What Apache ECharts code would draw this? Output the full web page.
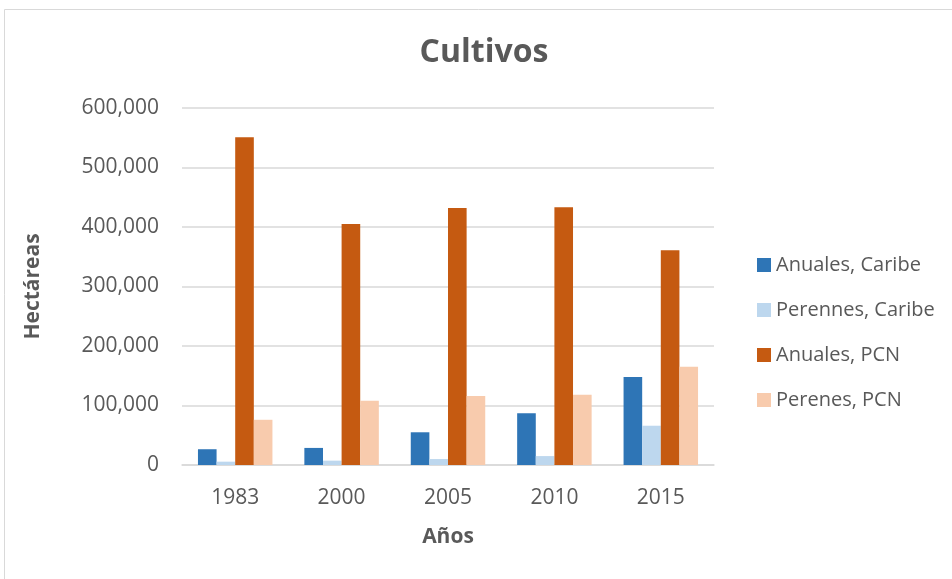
<!DOCTYPE html>
<html><head><meta charset="utf-8">
<script src="https://cdn.jsdelivr.net/npm/echarts@6/dist/echarts.min.js"></script>
<style>html,body{margin:0;padding:0;background:#fff}#c{width:952px;height:579px}</style>
</head><body><div id="c"></div>
<script>
const years = ['1983','2000','2005','2010','2015'];
const seriesNames = ['Anuales, Caribe','Perennes, Caribe','Anuales, PCN','Perenes, PCN'];
const anualesCaribe = [26500, 28700, 55000, 87000, 148000];
const perennesCaribe = [5600, 7300, 10000, 15000, 66000];
const anualesPCN = [551000, 405000, 432000, 433000, 361000];
const perenesPCN = [76000, 108000, 116000, 118000, 165000];
const colors = ['#2E75B6','#BDD7EE','#C55A11','#F8CBAD'];
const values = [anualesCaribe, perennesCaribe, anualesPCN, perenesPCN];
const font = 'Open Sans';
const chart = echarts.init(document.getElementById('c'));
chart.setOption({
  animation:false,
  graphic:[{type:'rect',shape:{x:4.5,y:9.5,width:960,height:600},style:{fill:'none',stroke:'#D9D9D9',lineWidth:1},silent:true}],
  title:{text:'Cultivos',left:479,top:32,textAlign:'center',textStyle:{fontFamily:font,fontSize:32,fontWeight:'bold',color:'#595959'}},
  legend:{orient:'vertical',left:752,top:250,itemWidth:14,itemHeight:14,itemGap:25,icon:'rect',
    textStyle:{fontFamily:font,fontSize:20,color:'#595959'},data:seriesNames},
  grid:{left:182,right:238,top:108,bottom:114},
  xAxis:{type:'category',data:years,name:'Años',nameLocation:'middle',nameGap:62,
    nameTextStyle:{fontFamily:font,fontSize:21,fontWeight:'bold',color:'#595959'},
    axisLine:{lineStyle:{color:'#D9D9D9',width:1.5}},axisTick:{show:false},
    axisLabel:{fontFamily:font,fontSize:21,color:'#595959',margin:23}},
  yAxis:{type:'value',min:0,max:600000,interval:100000,name:'Hectáreas',nameLocation:'middle',nameGap:138,
    nameTextStyle:{fontFamily:font,fontSize:21,fontWeight:'bold',color:'#595959'},
    axisLine:{show:false},axisTick:{show:false},
    splitLine:{lineStyle:{color:'#D9D9D9',width:1.5}},
    axisLabel:{fontFamily:font,fontSize:21,color:'#595959',margin:23,
      formatter:v=>v.toLocaleString('en-US')}},
  series:seriesNames.map((n,i)=>({name:n,type:'bar',data:values[i],barGap:'0%',barCategoryGap:'30%',
    itemStyle:{color:colors[i]}}))
});
</script></body></html>
